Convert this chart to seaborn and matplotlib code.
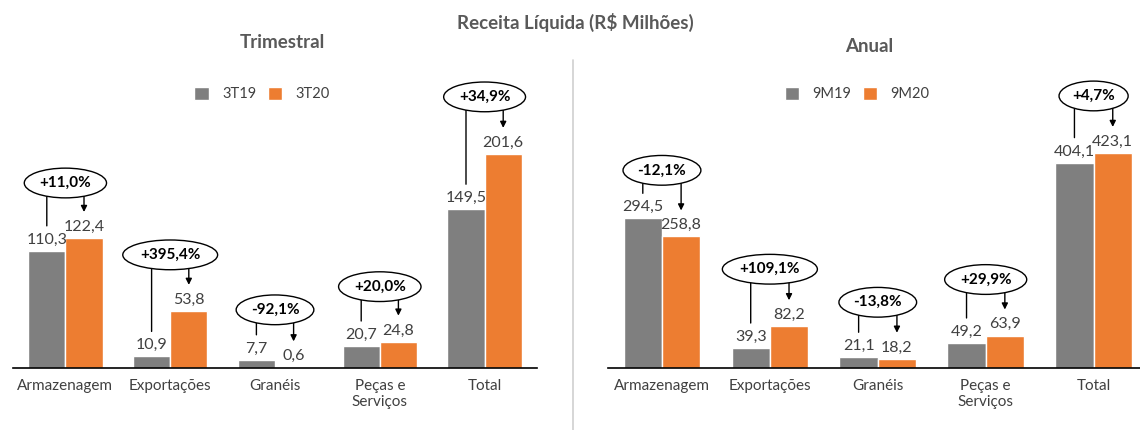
import matplotlib

matplotlib.use("Agg")
import matplotlib.pyplot as plt
from matplotlib.lines import Line2D
from matplotlib.patches import Patch
from matplotlib.path import Path
from matplotlib.transforms import Affine2D, offset_copy
import pandas as pd
import seaborn as sns

categorias = ["Armazenagem", "Exportações", "Granéis", "Peças e\nServiços", "Total"]
periodos_tri = ["3T19", "3T20"]
tri_3t19 = [110.3, 10.9, 7.7, 20.7, 149.5]
tri_3t20 = [122.4, 53.8, 0.6, 24.8, 201.6]
tri_var = ["+11,0%", "+395,4%", "-92,1%", "+20,0%", "+34,9%"]
periodos_anual = ["9M19", "9M20"]
anual_9m19 = [294.5, 39.3, 21.1, 49.2, 404.1]
anual_9m20 = [258.8, 82.2, 18.2, 63.9, 423.1]
anual_var = ["-12,1%", "+109,1%", "-13,8%", "+29,9%", "+4,7%"]

CINZA = "#7f7f7f"
LARANJA = "#ed7d31"
TEXTO = "#404040"

# distance in px from the taller bar of each pair to the ellipse centre
lift_tri = [55, 56, 50, 55, 57]
lift_anual = [48, 57, 55, 56, 57]

sns.set_theme(style="white")
plt.rcParams["font.family"] = ["Lato", "DejaVu Sans"]

W, H = 1140, 430
fig = plt.figure(figsize=(W / 100, H / 100), dpi=100)


def box(x0, x1, y_top=60, y_base=368):
    return [x0 / W, 1 - y_base / H, (x1 - x0) / W, (y_base - y_top) / H]


def fmt(v):
    return f"{v:.1f}".replace(".", ",")


def oval(x0, y0, width, height, mutation_size):
    # ellipse a bit taller than the stock "ellipse" box style
    pad = 0.15 * mutation_size
    a = (width / 2 + pad) * 1.46
    b = (height / 2 + pad) * 1.6
    cx, cy = x0 + width / 2, y0 + height / 2
    return Affine2D().scale(a, b).translate(cx, cy).transform_path(Path.unit_circle())


def painel(ax, antes, depois, periodos, variacoes, lifts, ymax, xmax):
    df = pd.DataFrame({
        "categoria": categorias * 2,
        "periodo": [periodos[0]] * len(antes) + [periodos[1]] * len(depois),
        "valor": antes + depois,
    })
    sns.barplot(data=df, x="categoria", y="valor", hue="periodo",
                palette=[CINZA, LARANJA], width=0.71, gap=0, saturation=1,
                errorbar=None, ax=ax, legend=False)
    for cont, vals in zip(ax.containers, [antes, depois]):
        ax.bar_label(cont, labels=[fmt(v) for v in vals], padding=3,
                     fontsize=11.5, color=TEXTO)

    def up(px):
        return offset_copy(ax.transData, fig=fig, x=0, y=px, units="dots")

    for i, (bg, bo) in enumerate(zip(ax.containers[0], ax.containers[1])):
        g, o = antes[i], depois[i]
        xg = bg.get_x() + bg.get_width() / 2
        xo = bo.get_x() + bo.get_width() / 2
        topo = max(g, o)
        lift = lifts[i]
        ax.annotate("", xy=(xg, g), xycoords=up(25), xytext=(xg, topo),
                    textcoords=up(lift - 12),
                    arrowprops=dict(arrowstyle="-", color="black", lw=1,
                                    shrinkA=0, shrinkB=0))
        ax.annotate("", xy=(xo, o), xycoords=up(26), xytext=(xo, topo),
                    textcoords=up(lift - 12),
                    arrowprops=dict(arrowstyle="-|>", color="black", lw=1,
                                    mutation_scale=9, shrinkA=0, shrinkB=0))
        ax.text(i, topo, variacoes[i], transform=up(lift), ha="center",
                va="center", fontsize=11, fontweight="bold", color="black",
                zorder=5,
                bbox=dict(boxstyle=oval, fc="white", ec="black", lw=1))

    ax.set_xlim(-0.5, xmax)
    ax.set_ylim(0, ymax)
    ax.set_xlabel("")
    ax.set_ylabel("")
    ax.set_yticks([])
    ax.tick_params(axis="x", length=0, pad=8, labelsize=11, labelcolor=TEXTO)
    sns.despine(ax=ax, left=True)
    ax.spines["bottom"].set_color("black")
    ax.spines["bottom"].set_linewidth(1.2)


ax_tri = fig.add_axes(box(13, 537))
ax_anual = fig.add_axes(box(608, 1140))
painel(ax_tri, tri_3t19, tri_3t20, periodos_tri, tri_var, lift_tri, 290, 4.5)
painel(ax_anual, anual_9m19, anual_9m20, periodos_anual, anual_var,
       lift_anual, 606, 4.43)

fig.add_artist(Line2D([573 / W, 573 / W], [0, 1 - 60 / H],
                      transform=fig.transFigure, color="#d0d0d0", lw=1.2))

titulo = dict(ha="center", va="center", fontweight="bold", color="#595959",
              fontsize=13.5)
fig.text(575 / W, 1 - 22 / H, "Receita Líquida (R$ Milhões)", **titulo)
fig.text(282 / W, 1 - 43 / H, "Trimestral", **titulo)
fig.text(869 / W, 1 - 47 / H, "Anual", **titulo)

for cx, periodos in [(262, periodos_tri), (857, periodos_anual)]:
    handles = [Patch(facecolor=CINZA), Patch(facecolor=LARANJA)]
    fig.legend(handles, periodos, loc="center",
               bbox_to_anchor=(cx / W, 1 - 94 / H), ncol=2, frameon=False,
               handlelength=1.0, handleheight=1.0, handletextpad=0.9,
               columnspacing=0.8, fontsize=10.5, labelcolor=TEXTO)

fig.savefig("out.png", dpi=100)
